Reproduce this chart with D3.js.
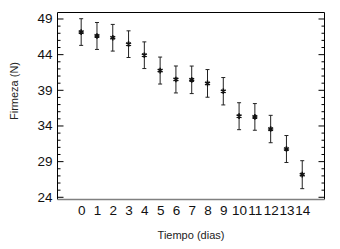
<!DOCTYPE html>
<html>
<head>
<meta charset="utf-8">
<script src="https://cdn.jsdelivr.net/npm/d3@7"></script>
<style>
  html, body { margin: 0; padding: 0; background: #fff; }
  svg { display: block; font-family: "Liberation Sans", Arial, sans-serif; }
</style>
</head>
<body>
<svg id="chart"></svg>
<script>
// data
const days = [0, 1, 2, 3, 4, 5, 6, 7, 8, 9, 10, 11, 12, 13, 14];
const firmness = [47.1, 46.55, 46.3, 45.4, 43.85, 41.7, 40.45, 40.4, 39.9, 38.8, 35.3, 35.2, 33.5, 30.7, 27.1];
const errors = [1.87, 1.89, 1.87, 1.87, 1.87, 1.89, 1.89, 1.93, 1.94, 1.92, 1.89, 1.87, 1.92, 1.89, 1.96];
const yTicks = [24, 29, 34, 39, 44, 49];

const width = 340, height = 249;
const plot = { left: 57.5, right: 324.5, top: 12.5, bottom: 199.5 };

const svg = d3.select("#chart").attr("width", width).attr("height", height);

const x = d3.scaleLinear().domain([-1.5, 15.41]).range([plot.left, plot.right]);
const y = d3.scaleLinear().domain([23.62, 49.84]).range([plot.bottom, plot.top]);

// frame: top line
svg.append("line")
  .attr("x1", plot.left).attr("x2", plot.right).attr("y1", plot.top).attr("y2", plot.top)
  .attr("stroke", "#000").attr("stroke-width", 1);

// left axis, ticks pointing inward
const leftAxis = svg.append("g")
  .attr("transform", `translate(${plot.left},0)`)
  .call(d3.axisRight(y).tickValues(d3.range(24, 50, 1)).tickSize(3).tickFormat(""));
leftAxis.selectAll(".tick line").filter(d => yTicks.includes(d)).attr("x2", 6);
leftAxis.select(".domain").attr("d", `M0,${plot.top}V${plot.bottom}`);

svg.append("g")
  .attr("transform", `translate(${plot.left},0)`)
  .call(d3.axisLeft(y).tickValues(yTicks).tickSize(0).tickPadding(5))
  .call(g => g.select(".domain").remove())
  .selectAll("text")
  .style("font-size", "13.5px")
  .style("fill", "#111");

// right axis, ticks pointing inward
const rightAxis = svg.append("g")
  .attr("transform", `translate(${plot.right},0)`)
  .call(d3.axisLeft(y).tickValues(d3.range(24, 50, 1)).tickSize(3).tickFormat(""));
rightAxis.selectAll(".tick line").filter(d => yTicks.includes(d)).attr("x2", -6);
rightAxis.select(".domain").attr("d", `M0,${plot.top}V${plot.bottom}`);

// bottom axis: grey line, labels only
svg.append("g")
  .attr("transform", `translate(0,${plot.bottom})`)
  .call(d3.axisBottom(x).tickValues(days).tickSize(0).tickPadding(6).tickFormat(d3.format("d")))
  .call(g => g.select(".domain").attr("d", `M${plot.left},0H${plot.right}`).attr("stroke", "#808080").attr("stroke-width", 1.6))
  .selectAll("text")
  .style("font-size", "13.5px")
  .style("fill", "#111");

// error bars
const bars = svg.append("g").selectAll("g")
  .data(days.map((d, i) => ({ day: d, v: firmness[i], e: errors[i] })))
  .enter().append("g")
  .attr("stroke", "#222").attr("stroke-width", 1);

bars.append("line")
  .attr("x1", d => x(d.day)).attr("x2", d => x(d.day))
  .attr("y1", d => y(d.v + d.e)).attr("y2", d => y(d.v - d.e));
bars.append("line")
  .attr("x1", d => x(d.day) - 2).attr("x2", d => x(d.day) + 2)
  .attr("y1", d => y(d.v + d.e)).attr("y2", d => y(d.v + d.e));
bars.append("line")
  .attr("x1", d => x(d.day) - 2).attr("x2", d => x(d.day) + 2)
  .attr("y1", d => y(d.v - d.e)).attr("y2", d => y(d.v - d.e));

// markers
svg.append("g").selectAll("path")
  .data(days)
  .enter().append("path")
  .attr("transform", (d, i) => `translate(${x(d)},${y(firmness[i])})`)
  .attr("d", d3.symbol(d3.symbolAsterisk, 22))
  .attr("fill", "none")
  .attr("stroke", "#111")
  .attr("stroke-width", 1.6);

// axis titles
svg.append("text")
  .attr("transform", "rotate(-90)")
  .attr("x", -91).attr("y", 18)
  .attr("text-anchor", "middle")
  .style("font-size", "11px")
  .style("fill", "#222")
  .text("Firmeza (N)");

svg.append("text")
  .attr("x", 191).attr("y", 239)
  .attr("text-anchor", "middle")
  .style("font-size", "11px")
  .style("fill", "#222")
  .text("Tiempo (dias)");
</script>
</body>
</html>
